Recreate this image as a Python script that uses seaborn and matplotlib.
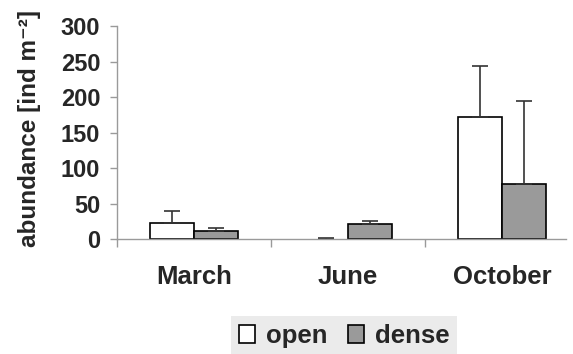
import numpy as np
import pandas as pd
import matplotlib
matplotlib.use("Agg")
import matplotlib.pyplot as plt
from matplotlib.patches import Patch
from matplotlib.ticker import FixedLocator
import seaborn as sns

months = ["March", "June", "October"]
habitats = ["open", "dense"]
open_mean = [22.5, 0.0, 172]
dense_mean = [11.7, 21.5, 77.5]
open_err = [17.5, 1.0, 72]
dense_err = [4.3, 4.5, 116.5]
y_ticks = [0, 50, 100, 150, 200, 250, 300]

sns.set_theme(style="white")
plt.rcParams["font.family"] = ["Liberation Sans", "DejaVu Sans"]
plt.rcParams["font.weight"] = "bold"

df = pd.DataFrame({
    "month": months * 2,
    "habitat": [habitats[0]] * 3 + [habitats[1]] * 3,
    "abundance": open_mean + dense_mean,
})
errs = {("open", m): e for m, e in zip(months, open_err)}
errs.update({("dense", m): e for m, e in zip(months, dense_err)})

colors = {"open": "#ffffff", "dense": "#9a9a9a"}

fig = plt.figure(figsize=(5.73, 3.54), dpi=100)
ax = fig.add_axes([117 / 573, 1 - 239 / 354, (566 - 117) / 573, (239 - 26) / 354])

sns.barplot(data=df, x="month", y="abundance", hue="habitat", order=months,
            hue_order=habitats, palette=colors, width=0.571, gap=0,
            edgecolor="black", linewidth=1.2, errorbar=None, legend=False, ax=ax)

# upper-only error bars, positioned from the drawn bars
for container, hab in zip(ax.containers, habitats):
    for patch, m in zip(container.patches, months):
        h = patch.get_height()
        if h == 0:
            patch.set_linewidth(0)
        cx = patch.get_x() + patch.get_width() / 2
        ax.errorbar(cx, h, yerr=[[0], [errs[(hab, m)]]], fmt="none",
                    ecolor="#333333", elinewidth=1.2, capsize=5.5, capthick=1.2,
                    zorder=1)

ax.set_xlim(-0.5, 2.416)
ax.set_ylim(0, 300)
ax.set_yticks(y_ticks)
ax.xaxis.set_minor_locator(FixedLocator([-0.5, 0.5, 1.5]))

for side in ["top", "right"]:
    ax.spines[side].set_visible(False)
for side in ["left", "bottom"]:
    ax.spines[side].set_color("#9a9a9a")
    ax.spines[side].set_linewidth(1.0)

ax.tick_params(axis="y", which="major", direction="out", length=5, width=1,
               color="#9a9a9a", labelsize=17, pad=7, left=True)
ax.tick_params(axis="x", which="major", length=0, labelsize=18.5, pad=19)
ax.tick_params(axis="x", which="minor", direction="out", length=6, width=1,
               color="#9a9a9a", bottom=True)
for lbl in ax.get_xticklabels() + ax.get_yticklabels():
    lbl.set_fontweight("bold")

ax.set_xlabel("")
ax.set_ylabel("abundance [ind m\u207b\u00b2]", fontsize=17.5, fontweight="bold")
ax.yaxis.set_label_coords(-0.17, 0.52)

handles = [Patch(facecolor=colors[h], edgecolor="black", linewidth=1.2, label=h)
           for h in habitats]
leg = fig.legend(handles=handles, loc="center", bbox_to_anchor=(344 / 573, 1 - 336 / 354),
                 ncol=2, frameon=True, handlelength=0.65, handleheight=0.65,
                 handletextpad=0.4, columnspacing=0.8, borderpad=0.3,
                 prop={"weight": "bold", "size": 18.5})
leg.get_frame().set_facecolor("#e6e6e6")
leg.get_frame().set_edgecolor("none")
leg.get_frame().set_boxstyle("square", pad=0)

fig.savefig("out.png", dpi=100)
